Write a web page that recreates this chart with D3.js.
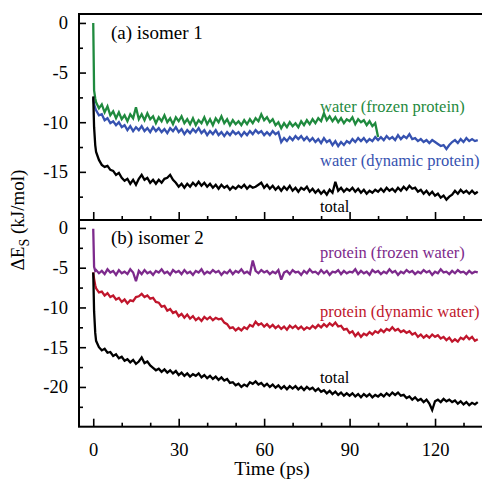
<!DOCTYPE html>
<html>
<head>
<meta charset="utf-8">
<script src="https://cdn.jsdelivr.net/npm/d3@7"></script>
<style>
  html, body { margin: 0; padding: 0; background: #fff; }
  svg { display: block; }
  text { font-family: "Liberation Serif", "Times New Roman", serif; }
</style>
</head>
<body>
<svg id="chart" width="482" height="480" font-family="Liberation Serif, Times New Roman, serif"></svg>
<script>
// Sampling times (ps): a few sub-picosecond points, then 1 ps steps
const startTimes = [0, 0.3, 0.7];
const times = startTimes.concat(d3.range(1, 136));

// Panel (a) isomer 1, ΔE_S in kJ/mol
const waterFrozenProtein = [0, -6.8, -7.6,
  -8.0,-8.6,-8.2,-9.0,-8.4,-9.3,-8.9,-9.6,-9.0,-9.7,
  -9.3,-9.9,-9.2,-9.6,-8.5,-9.7,-9.2,-9.8,-9.1,-9.7,
  -9.4,-10.1,-9.5,-9.9,-9.3,-10.0,-9.6,-10.2,-9.5,-9.9,
  -9.4,-10.1,-9.7,-10.2,-9.6,-10.3,-9.8,-10.1,-9.5,-10.2,
  -9.7,-10.3,-9.6,-10.0,-9.4,-10.1,-9.7,-10.3,-9.8,-10.2,
  -9.9,-10.3,-9.8,-10.2,-9.7,-10.1,-9.6,-9.9,-9.2,-9.8,
  -9.5,-10.0,-9.7,-10.3,-10.0,-10.6,-10.1,-10.5,-10.0,-10.4,
  -10.1,-10.5,-9.9,-10.3,-9.8,-10.2,-9.7,-10.1,-9.6,-9.9,
  -9.1,-9.8,-9.4,-9.9,-9.5,-10.0,-9.6,-10.1,-9.7,-9.9,
  -9.5,-10.2,-9.7,-10.0,-9.8,-10.3,-9.9,-10.4,-10.1,-11.5];

const waterDynamicProtein = [-7.6, -8.2, -8.6,
  -8.8,-9.3,-9.2,-9.8,-9.6,-10.1,-9.9,-10.3,-10.0,-10.5,
  -10.3,-10.8,-10.4,-10.9,-10.5,-10.8,-10.4,-10.9,-10.6,-11.0,
  -10.5,-10.9,-10.6,-11.0,-10.7,-11.1,-10.6,-10.9,-10.5,-11.0,
  -10.7,-11.2,-10.8,-11.1,-10.7,-11.0,-10.6,-11.1,-10.8,-11.3,
  -10.9,-11.2,-10.8,-11.3,-11.0,-11.4,-11.0,-11.3,-10.9,-11.2,
  -11.0,-11.4,-11.0,-11.3,-10.9,-11.2,-10.8,-11.1,-10.9,-11.3,
  -11.0,-11.3,-10.9,-11.2,-11.0,-12.0,-11.6,-11.9,-11.5,-11.8,
  -11.4,-11.7,-11.4,-11.8,-11.5,-11.9,-11.6,-12.0,-11.7,-12.1,
  -11.6,-12.0,-11.8,-12.3,-11.9,-12.4,-12.0,-12.3,-11.9,-12.1,
  -11.7,-12.0,-11.6,-11.9,-11.6,-12.0,-11.7,-11.9,-11.5,-11.8,
  -11.5,-11.8,-11.4,-11.7,-11.5,-11.8,-11.3,-11.7,-11.4,-11.6,
  -11.2,-11.7,-11.6,-11.9,-11.7,-12.0,-11.8,-12.1,-11.8,-12.0,
  -12.2,-12.4,-12.3,-12.7,-12.3,-12.0,-11.8,-12.1,-11.7,-12.0,
  -11.6,-11.9,-11.7,-11.9,-11.8];

const totalIsomer1 = [-7.4, -10.5, -12.3,
  -13.0,-13.8,-14.3,-14.5,-14.4,-14.8,-14.9,-15.3,-15.1,-15.6,
  -15.9,-15.7,-16.2,-15.8,-16.3,-15.7,-15.3,-15.8,-15.6,-16.1,
  -15.8,-16.2,-15.8,-16.1,-15.7,-15.6,-15.3,-15.8,-16.1,-16.5,
  -16.2,-16.6,-16.2,-16.5,-16.1,-16.4,-16.0,-16.4,-16.1,-16.5,
  -16.2,-16.6,-16.3,-16.7,-16.3,-16.6,-16.4,-16.8,-16.5,-16.7,
  -16.4,-16.6,-16.3,-16.7,-16.4,-16.6,-16.5,-16.3,-16.1,-16.6,
  -16.3,-16.7,-16.4,-16.8,-16.5,-16.9,-16.5,-16.8,-16.4,-16.9,
  -16.6,-17.0,-16.6,-16.8,-16.5,-17.0,-16.7,-17.1,-16.8,-17.2,
  -16.9,-17.3,-16.8,-17.1,-16.0,-16.9,-16.6,-17.0,-16.7,-16.9,
  -16.6,-17.0,-16.7,-17.1,-16.8,-17.2,-16.9,-17.1,-16.8,-17.0,
  -16.7,-17.0,-16.6,-16.9,-16.7,-17.0,-16.6,-16.9,-16.5,-16.8,
  -16.4,-16.7,-16.6,-17.0,-16.8,-17.2,-16.9,-17.3,-17.0,-17.4,
  -17.2,-17.6,-17.4,-17.8,-17.5,-17.3,-16.9,-17.2,-16.8,-17.1,
  -16.9,-17.2,-16.9,-17.2,-17.0];

// Panel (b) isomer 2
const proteinFrozenWater = [-0.1, -4.9, -5.4,
  -5.3,-5.7,-5.4,-5.8,-5.2,-5.6,-5.4,-5.9,-5.3,-5.7,
  -5.5,-5.8,-5.2,-5.6,-6.7,-5.4,-5.8,-5.3,-5.7,-5.5,
  -5.9,-5.4,-5.6,-5.2,-5.7,-5.5,-5.9,-5.3,-5.6,-5.4,
  -5.8,-5.3,-5.7,-5.5,-5.9,-5.4,-5.6,-5.2,-5.8,-5.5,
  -5.7,-5.3,-5.6,-5.4,-5.9,-5.5,-5.7,-5.3,-5.8,-5.4,
  -5.6,-5.2,-5.7,-5.5,-5.8,-4.1,-5.4,-5.7,-5.3,-5.6,
  -5.4,-5.8,-5.5,-5.7,-5.3,-6.5,-5.6,-5.4,-5.8,-5.3,
  -5.6,-5.5,-5.9,-5.4,-5.7,-5.2,-5.6,-5.5,-5.8,-5.3,
  -5.7,-5.4,-5.9,-5.5,-5.6,-5.3,-5.8,-5.4,-5.7,-5.5,
  -5.6,-5.2,-5.8,-5.4,-5.7,-5.5,-5.9,-5.3,-5.6,-5.4,
  -5.8,-5.5,-5.7,-5.2,-5.6,-5.4,-5.9,-5.5,-5.7,-5.3,
  -5.6,-5.4,-5.8,-5.5,-5.7,-5.3,-5.6,-5.4,-5.9,-5.5,
  -5.7,-5.2,-5.6,-5.5,-5.8,-5.4,-5.7,-5.3,-5.6,-5.5,
  -5.8,-5.4,-5.7,-5.5,-5.6];

const proteinDynamicWater = [-5.6, -6.4, -7.2,
  -7.6,-8.1,-8.0,-8.5,-8.2,-8.7,-8.5,-9.0,-8.8,-9.3,
  -9.0,-9.5,-9.1,-9.2,-8.7,-8.6,-8.3,-8.7,-8.5,-8.9,
  -8.8,-9.3,-9.4,-9.9,-9.8,-10.4,-10.2,-10.7,-10.5,-11.1,
  -10.8,-11.3,-10.9,-11.4,-11.1,-11.6,-11.3,-11.7,-11.2,-11.5,
  -11.2,-11.6,-11.3,-11.5,-11.4,-11.9,-12.1,-12.6,-12.5,-12.9,
  -12.6,-12.9,-12.5,-12.7,-12.2,-12.4,-11.8,-12.2,-12.0,-12.4,
  -12.1,-12.5,-12.2,-12.6,-12.3,-12.7,-12.4,-12.8,-12.3,-12.6,
  -12.3,-12.7,-12.4,-12.8,-12.5,-12.7,-12.3,-12.6,-12.2,-12.5,
  -12.1,-12.4,-12.0,-12.3,-11.9,-12.4,-12.3,-12.8,-12.7,-13.2,
  -13.0,-13.6,-13.2,-13.7,-13.3,-13.5,-13.1,-13.4,-13.0,-13.2,
  -12.8,-13.1,-12.7,-12.9,-12.5,-12.9,-12.7,-13.1,-12.9,-13.2,
  -13.0,-13.4,-13.2,-13.7,-13.4,-13.8,-13.5,-13.8,-13.4,-13.7,
  -13.5,-13.9,-13.7,-14.1,-13.8,-14.3,-14.0,-14.3,-13.8,-14.0,
  -13.6,-14.0,-13.7,-14.2,-14.0];

const totalIsomer2 = [-5.6, -10.5, -13.2,
  -14.2,-15.0,-15.4,-15.2,-15.7,-15.6,-16.1,-15.9,-16.4,-16.2,
  -16.7,-16.5,-16.9,-16.6,-17.1,-16.8,-16.3,-17.0,-16.8,-17.3,
  -17.6,-17.9,-17.7,-18.1,-17.8,-18.2,-17.9,-18.3,-18.0,-18.5,
  -18.2,-18.6,-18.3,-18.7,-18.4,-18.6,-18.3,-18.8,-18.5,-18.9,
  -18.6,-19.0,-18.7,-19.1,-18.8,-19.2,-19.0,-19.5,-19.4,-19.8,
  -19.6,-20.0,-19.7,-19.9,-19.4,-19.6,-19.3,-19.7,-19.5,-19.9,
  -19.6,-20.0,-19.7,-20.1,-19.8,-20.2,-19.9,-20.3,-19.9,-20.2,
  -19.9,-20.3,-20.0,-20.4,-20.0,-20.3,-20.1,-20.5,-20.2,-20.6,
  -20.4,-20.8,-20.5,-20.9,-20.6,-21.0,-20.7,-21.1,-20.8,-21.1,
  -20.8,-21.2,-20.9,-21.3,-20.9,-21.2,-20.9,-21.3,-21.0,-21.2,
  -20.9,-21.2,-20.8,-21.1,-20.7,-21.0,-20.7,-21.1,-21.0,-21.4,
  -21.2,-21.6,-21.3,-21.7,-21.5,-21.9,-21.6,-22.1,-22.9,-21.8,
  -21.6,-21.9,-21.5,-21.8,-21.6,-21.9,-21.7,-22.1,-21.8,-22.2,
  -21.9,-22.3,-22.0,-22.2,-21.9];

// Tick values
const xMajorTicks = [0, 30, 60, 90, 120];
const xMinorTicks = [10, 20, 40, 50, 70, 80, 100, 110, 130];
const yTopMajor = [0, -5, -10, -15];
const yTopMinor = [-2.5, -7.5, -12.5, -17.5];
const yBotMajor = [0, -5, -10, -15, -20];
const yBotMinor = [-2.5, -7.5, -12.5, -17.5, -22.5];

const colors = {
  green: "#1f8a3e",
  blue: "#3652b0",
  black: "#000000",
  purple: "#7d2a8c",
  red: "#c0162c"
};

const serif = "'Liberation Serif', 'Times New Roman', serif";
const svg = d3.select("#chart");

const left = 79, right = 492;
const topY0 = 14, midY = 220, botY1 = 426.7;

const x = d3.scaleLinear().domain([-5, 140]).range([left, right]);
const yTop = d3.scaleLinear().domain([-19.85, 0.9]).range([midY, topY0]);
const yBot = d3.scaleLinear().domain([-25, 1]).range([botY1, midY]);

function drawSeries(yScale, values, color) {
  const pts = values.map((v, i) => [times[i], v]);
  const line = d3.line().x(d => x(d[0])).y(d => yScale(d[1]));
  svg.append("path")
    .datum(pts)
    .attr("d", line)
    .attr("fill", "none")
    .attr("stroke", color)
    .attr("stroke-width", 2.3)
    .attr("stroke-linejoin", "miter")
    .attr("stroke-miterlimit", 3);
}

// Series
drawSeries(yTop, waterDynamicProtein, colors.blue);
drawSeries(yTop, waterFrozenProtein, colors.green);
drawSeries(yTop, totalIsomer1, colors.black);
drawSeries(yBot, proteinDynamicWater, colors.red);
drawSeries(yBot, proteinFrozenWater, colors.purple);
drawSeries(yBot, totalIsomer2, colors.black);

// Axes helpers
function styleAxis(g) {
  g.attr("font-family", null).attr("font-size", null);
  g.select(".domain").remove();
  g.selectAll(".tick line").attr("stroke", "#000").attr("stroke-width", 1.6);
  g.selectAll(".tick text")
    .attr("fill", "#000")
    .style("font-family", serif)
    .style("font-size", "18.5px");
}

// Y axes (ticks pointing inward)
[[yTop, yTopMajor, yTopMinor], [yBot, yBotMajor, yBotMinor]].forEach(([ys, maj, min]) => {
  svg.append("g").attr("transform", `translate(${left},0)`)
    .call(d3.axisLeft(ys).tickValues(maj).tickSize(-7).tickPadding(11).tickFormat(d => String(d)))
    .call(styleAxis);
  svg.append("g").attr("transform", `translate(${left},0)`)
    .call(d3.axisLeft(ys).tickValues(min).tickSize(-4).tickFormat(""))
    .call(styleAxis);
});

// X axes at the bottom of each panel
[[midY, false], [botY1, true]].forEach(([yy, labels]) => {
  svg.append("g").attr("transform", `translate(0,${yy})`)
    .call(d3.axisBottom(x).tickValues(xMajorTicks).tickSize(-8).tickPadding(16)
      .tickFormat(labels ? (d => String(d)) : ""))
    .call(styleAxis);
  svg.append("g").attr("transform", `translate(0,${yy})`)
    .call(d3.axisBottom(x).tickValues(xMinorTicks).tickSize(-4).tickFormat(""))
    .call(styleAxis);
});

// Panel frames
[[topY0, midY], [midY, botY1]].forEach(([a, b]) => {
  svg.append("rect")
    .attr("x", left).attr("y", a)
    .attr("width", right - left).attr("height", b - a)
    .attr("fill", "none").attr("stroke", "#000").attr("stroke-width", 2);
});

// Panel titles
svg.append("text").attr("x", 111).attr("y", 39)
  .attr("font-size", 19).text("(a) isomer 1");
svg.append("text").attr("x", 111).attr("y", 244)
  .attr("font-size", 19).text("(b) isomer 2");

// Series annotations
const notes = [
  ["water (frozen protein)", 320, 112, colors.green],
  ["water (dynamic protein)", 320, 166, colors.blue],
  ["total", 320, 212, colors.black],
  ["protein (frozen water)", 320, 258, colors.purple],
  ["protein (dynamic water)", 320, 317, colors.red],
  ["total", 320, 383, colors.black]
];
notes.forEach(([t, xx, yy, c]) => {
  svg.append("text").attr("x", xx).attr("y", yy)
    .attr("font-size", 16.5).attr("fill", c).text(t);
});

// Axis titles
const yl = svg.append("text")
  .attr("transform", "translate(24,220) rotate(-90)")
  .attr("text-anchor", "middle")
  .attr("font-size", 19);
yl.append("tspan").text("ΔE");
yl.append("tspan").attr("font-size", 14).attr("dy", 5).text("S");
yl.append("tspan").attr("dy", -5).text(" (kJ/mol)");

svg.append("text").attr("x", 272).attr("y", 475)
  .attr("text-anchor", "middle").attr("font-size", 19.5)
  .text("Time (ps)");
</script>
</body>
</html>
